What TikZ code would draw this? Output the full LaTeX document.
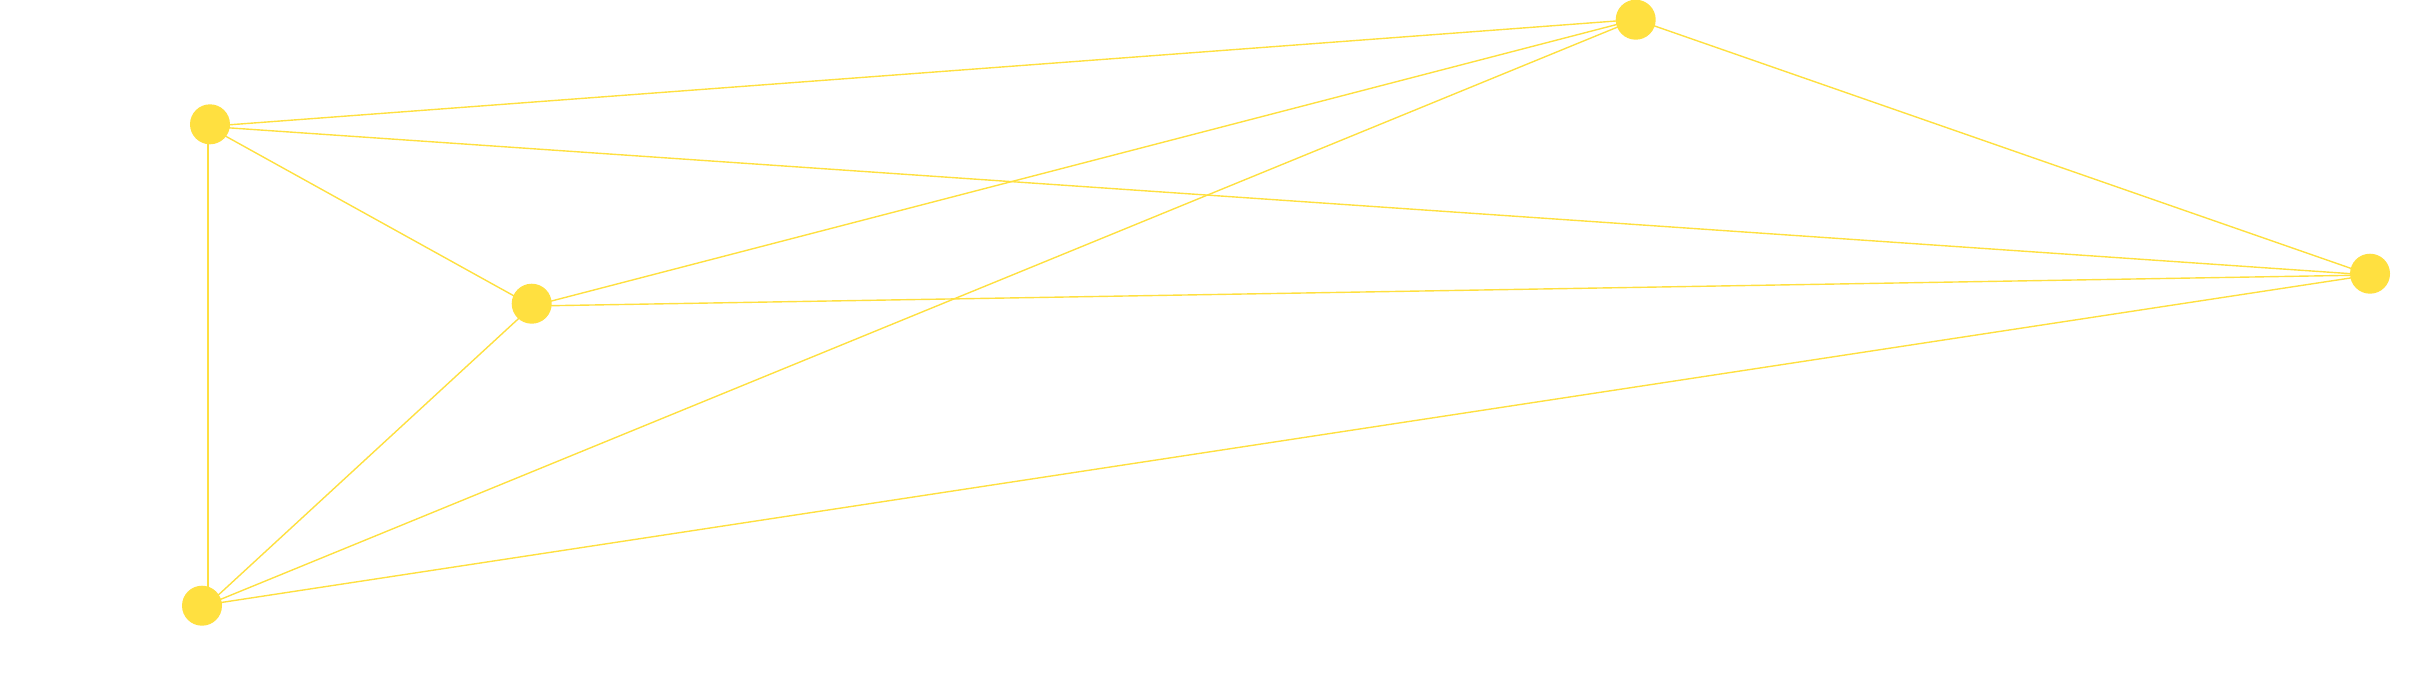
\documentclass[tikz,border=0pt]{standalone}
\usepackage{tikz}
\usepackage{xcolor}

\definecolor{dotyellow}{RGB}{255,224,64}

\tikzset{
	dot/.style={circle,fill=dotyellow,inner sep=0pt,minimum size=20pt},
	link/.style={draw=dotyellow,line width=0.7pt}
}

\begin{document}
\begin{tikzpicture}[x=0.5pt,y=-0.5pt]
		\useasboundingbox (0,0) rectangle (2424,692);
		
		% ends of the links
		\coordinate (a) at (208,126.4);
		\coordinate (b) at (1636,19.5);
		\coordinate (c) at (2370,275);
		\coordinate (d) at (532.2,306);
		\coordinate (e) at (208,604.5);
		
		\draw[link] (a) -- (b);
		\draw[link] (a) -- (c);
		\draw[link] (a) -- (d);
		\draw[link] (a) -- (e);
		
		\draw[link] (b) -- (c);
		\draw[link] (b) -- (d);
		\draw[link] (b) -- (e);
		
		\draw[link] (d) -- (c);
		\draw[link] (d) -- (e);
		
		\draw[link] (e) -- (c);
		
		\node[dot] (A) at (210,124.3) {};
		\node[dot] (B) at (1635.7,19.7) {};
		\node[dot] (C) at (2370,273.7) {};
		\node[dot] (D) at (531.7,303.7) {};
		\node[dot] (E) at (202,605.7) {};
	\end{tikzpicture}
\end{document}
